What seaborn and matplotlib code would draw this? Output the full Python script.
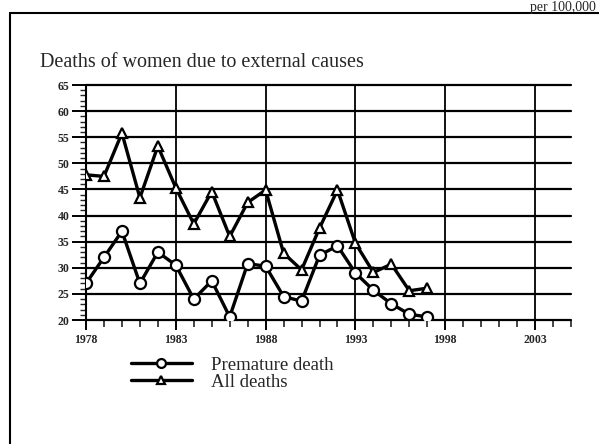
import numpy as np
import pandas as pd
import seaborn as sns
import matplotlib
matplotlib.use("Agg")
import matplotlib.pyplot as plt
from matplotlib.lines import Line2D
from matplotlib.ticker import MultipleLocator

# values
years = list(range(1978, 1998))
premature = [27, 32, 37, 27, 33, 30.5, 24, 27.5, 20.6, 30.8, 30.3, 24.5,
             23.6, 32.4, 34.2, 29, 25.7, 23.1, 21.1, 20.6]
all_deaths = [47.8, 47.5, 55.8, 43.4, 53.3, 45.3, 38.4, 44.6, 36, 42.5, 44.9, 32.8,
              29.6, 37.6, 44.9, 34.7, 29.1, 30.7, 25.6, 26.1]
year_ticks = [1978, 1983, 1988, 1993, 1998, 2003]

df = pd.DataFrame({"year": years, "Premature death": premature, "All deaths": all_deaths})

sns.set_style("white")
plt.rcParams['font.family'] = ['Liberation Serif', 'DejaVu Serif']

fig = plt.figure(figsize=(5.99, 4.44), dpi=100)
ax = fig.add_axes([86 / 599, 1 - 320 / 444, (571 - 86) / 599, (320 - 85) / 444])

sns.lineplot(data=df, x="year", y="Premature death", ax=ax, color="black", lw=2.4,
             marker="o", markersize=8, markerfacecolor="white", markeredgecolor="black",
             markeredgewidth=1.6, label="Premature death", zorder=4)
sns.lineplot(data=df, x="year", y="All deaths", ax=ax, color="black", lw=2.4,
             marker="^", markersize=7, markerfacecolor="white", markeredgecolor="black",
             markeredgewidth=1.6, label="All deaths", zorder=4)

ax.set_xlim(1978, 2005)
ax.set_ylim(20, 65)
ax.set_xticks(year_ticks)
ax.set_xticklabels([str(y) for y in year_ticks])
ax.xaxis.set_minor_locator(MultipleLocator(1))
ax.set_yticks(range(20, 66, 5))
ax.yaxis.set_minor_locator(MultipleLocator(1))
ax.set_xlabel("")
ax.set_ylabel("")

# grid lines
for v in range(20, 66, 5):
    ax.axhline(v, color="black", lw=1.6, zorder=1, clip_on=False)
for y in year_ticks[1:]:
    ax.axvline(y, color="black", lw=1.3, zorder=1)

for side in ["top", "right", "bottom"]:
    ax.spines[side].set_visible(False)
ax.spines["left"].set_linewidth(1.5)
ax.spines["left"].set_color("black")

ax.tick_params(axis="y", which="major", direction="out", length=10, width=1.4,
               left=True, labelsize=8.5, pad=2, color="black")
ax.tick_params(axis="y", which="minor", direction="out", length=4, width=1, left=True)
ax.tick_params(axis="x", which="major", direction="out", length=7, width=1.4,
               bottom=True, labelsize=8.5, pad=3, color="black")
ax.tick_params(axis="x", which="minor", direction="out", length=5, width=1.2, bottom=True)
for lab in ax.get_xticklabels() + ax.get_yticklabels():
    lab.set_fontweight("bold")

ax.legend(loc="upper left", bbox_to_anchor=(123 / 599, 1 - 349 / 444),
          bbox_transform=fig.transFigure, frameon=False, handlelength=3.3,
          fontsize=13.5, labelspacing=0.0, handletextpad=1.0, borderaxespad=0,
          markerscale=0.8)

fig.text(40 / 599, 1 - 67 / 444, "Deaths of women due to external causes",
         fontsize=14.5, ha="left", va="baseline")
fig.text(596 / 599, 1 - 1 / 444, "per 100,000", fontsize=10, ha="right", va="top")

# scanned frame
fig.add_artist(Line2D([10 / 599, 1], [1 - 13 / 444, 1 - 13 / 444], transform=fig.transFigure,
                      color="black", lw=1.5))
fig.add_artist(Line2D([10 / 599, 10 / 599], [0, 1 - 13 / 444], transform=fig.transFigure,
                      color="black", lw=1.5))

fig.savefig("out.png", dpi=100)
